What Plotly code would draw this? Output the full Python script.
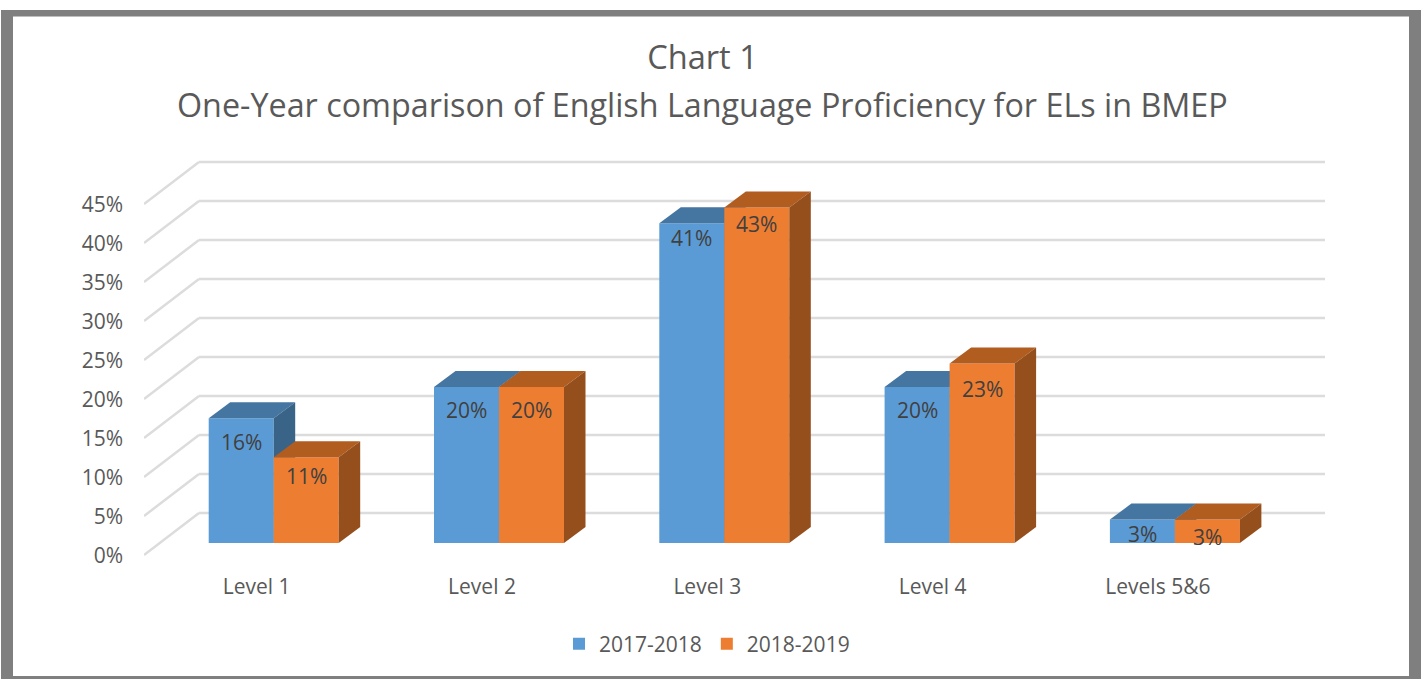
import plotly.graph_objects as go

# ---- data ----
categories = ["Level 1", "Level 2", "Level 3", "Level 4", "Levels 5&6"]
series_names = ["2017-2018", "2018-2019"]
values_2017_2018 = [16, 20, 41, 20, 3]
values_2018_2019 = [11, 20, 43, 23, 3]
y_ticks = [0, 5, 10, 15, 20, 25, 30, 35, 40, 45]
title_line_1 = "Chart 1"
title_line_2 = "One-Year comparison of English Language Proficiency for ELs in BMEP"

# ---- label placement (pixels below the bar top) ----
label_drop_a = [24, 23, 15, 23, 14]
label_drop_b = [19, 23, 16, 25, 17]

# ---- geometry ----
W, H = 1424, 679
PX_CAT = 225.3
PX_PCT = 7.8
X0_PX = 499 - PX_CAT            # pixel position of category 0 centre
Y0_PX = 543                     # pixel position of 0 %
L, R, T, B = 144, 1326, 160, 556
BAR_W = 65 / PX_CAT
DX, DY = 21.5 / PX_CAT, 16 / PX_PCT
xr = [(L - X0_PX) / PX_CAT, (R - X0_PX) / PX_CAT]
yr = [(Y0_PX - B) / PX_PCT, (Y0_PX - T) / PX_PCT]
WALL_L = (199 - X0_PX) / PX_CAT
WALL_R = (1325 - X0_PX) / PX_CAT
BACK_UP = 30 / PX_PCT
FRONT_DOWN = 12 / PX_PCT

FONT = "Open Sans"
TXT = "#595959"
LBL = "#404040"
GRID = "#DCDCDC"
FRAME = "#7F7F7F"
colors = {"front": ["#5B9BD5", "#ED7D31"],
          "top": ["#4575A1", "#B15D20"],
          "side": ["#3A6388", "#954F1C"]}

fig = go.Figure()

series = [values_2017_2018, values_2018_2019]
axes = [("x", "y"), ("x2", "y2")]
offsets = [-BAR_W, 0.0]
for s, vals in enumerate(series):
    xa, ya = axes[s]
    fig.add_trace(go.Bar(x=list(range(len(categories))), y=vals, width=BAR_W, offset=offsets[s],
                         name=series_names[s], marker=dict(color=colors["front"][s], line_width=0),
                         xaxis=xa, yaxis=ya, hoverinfo="skip"))
    for i, v in enumerate(vals):
        x1 = i + offsets[s]
        x2 = x1 + BAR_W
        fig.add_trace(go.Scatter(x=[x1, x1 + DX, x2 + DX, x2, x1], y=[v, v + DY, v + DY, v, v],
                                 mode="lines", fill="toself", fillcolor=colors["top"][s],
                                 line=dict(width=0), showlegend=False, hoverinfo="skip",
                                 xaxis=xa, yaxis=ya))
        fig.add_trace(go.Scatter(x=[x2, x2 + DX, x2 + DX, x2, x2], y=[v, v + DY, DY, 0, v],
                                 mode="lines", fill="toself", fillcolor=colors["side"][s],
                                 line=dict(width=0), showlegend=False, hoverinfo="skip",
                                 xaxis=xa, yaxis=ya))

# gridlines: back wall plus side wall diagonals
shapes = []
for t in y_ticks:
    shapes.append(dict(type="line", xref="x", yref="y", layer="below",
                       x0=WALL_L, x1=WALL_R, y0=t + BACK_UP, y1=t + BACK_UP,
                       line=dict(color=GRID, width=2.5)))
    shapes.append(dict(type="line", xref="x", yref="y", layer="below",
                       x0=xr[0], x1=WALL_L, y0=t - FRONT_DOWN, y1=t + BACK_UP,
                       line=dict(color=GRID, width=2.5)))

# outer picture frame
def px_rect(x0, y0, x1, y1):
    return dict(type="rect", xref="paper", yref="paper", layer="above",
                x0=(x0 - L) / (R - L), x1=(x1 - L) / (R - L),
                y0=(B - y1) / (B - T), y1=(B - y0) / (B - T),
                fillcolor=FRAME, line_width=0)
shapes += [px_rect(1, 10, 1421, 16.5), px_rect(1, 10, 13, 679),
           px_rect(1409, 10, 1421, 679), px_rect(1, 676, 1421, 679)]

# data labels
ann = []
for s, (vals, drops) in enumerate(zip(series, [label_drop_a, label_drop_b])):
    for i, v in enumerate(vals):
        ann.append(dict(x=i + offsets[s] + BAR_W / 2, y=v, xref="x", yref="y",
                        text=f"{v}%", showarrow=False, yshift=-drops[i], yanchor="middle",
                        font=dict(family=FONT, size=21, color=LBL)))

# second title line
ann.append(dict(x=(702.5 - L) / (R - L), y=(B - 104) / (B - T), xref="paper", yref="paper",
                showarrow=False, text=title_line_2, xanchor="center", yanchor="middle",
                font=dict(family=FONT, size=32.3, color=TXT)))

fig.update_layout(
    width=W, height=H, margin=dict(l=L, r=W - R, t=T, b=H - B),
    paper_bgcolor="white", plot_bgcolor="rgba(0,0,0,0)",
    font=dict(family=FONT, color=TXT, size=21),
    title=dict(text=title_line_1, x=702.5 / W, xanchor="center", y=1 - 58 / H, yanchor="middle",
               font=dict(family=FONT, size=32.6, color=TXT)),
    xaxis=dict(range=xr, tickvals=list(range(len(categories))), ticktext=categories,
               showgrid=False, zeroline=False, showline=False, ticks="",
               ticklabelshift=-17, ticklabelstandoff=16,
               tickfont=dict(family=FONT, size=21, color=TXT)),
    yaxis=dict(range=yr, tickvals=y_ticks, ticktext=[f"{t}%" for t in y_ticks],
               showgrid=False, zeroline=False, showline=False, ticks="",
               ticklabelshift=13, ticklabelstandoff=20,
               tickfont=dict(family=FONT, size=21, color=TXT)),
    xaxis2=dict(range=xr, overlaying="x", visible=False),
    yaxis2=dict(range=yr, overlaying="y", visible=False),
    legend=dict(orientation="h", x=0.5 * (561 + 853) / W, xref="container", xanchor="center",
                y=1 - 644 / H, yref="container", yanchor="middle",
                font=dict(family=FONT, size=21, color=TXT), bgcolor="rgba(0,0,0,0)"),
    shapes=shapes, annotations=ann, barmode="overlay",
)

fig.write_html("out.html", config={"displayModeBar": False},
               post_script="document.body.style.margin='0';")
